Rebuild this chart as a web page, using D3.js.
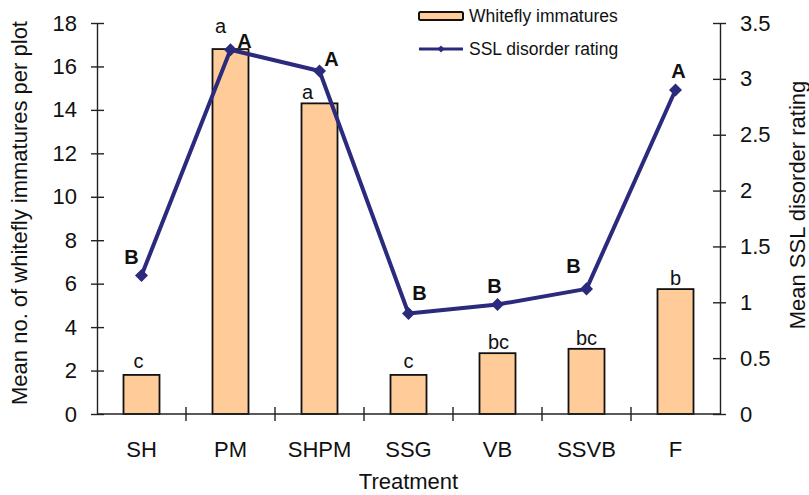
<!DOCTYPE html>
<html>
<head>
<meta charset="utf-8">
<script src="https://cdn.jsdelivr.net/npm/d3@7"></script>
<style>
    body { margin: 0; background: #fff; }
    text { font-family: "Liberation Sans", Arial, sans-serif; fill: #111; }
    .axis path, .axis line { stroke: #222; stroke-width: 1.4; }
</style>
</head>
<body>
<script>
//chart data
var treatments = ["SH", "PM", "SHPM", "SSG", "VB", "SSVB", "F"];
var whiteflyMeans = [1.8, 16.8, 14.3, 1.8, 2.8, 3.0, 5.75];
var whiteflyLetters = ["c", "a", "a", "c", "bc", "bc", "b"];
var sslMeans = [1.24, 3.26, 3.07, 0.9, 0.98, 1.12, 2.9];
var sslLetters = ["B", "A", "A", "B", "B", "B", "A"];
var leftTicks = [0, 2, 4, 6, 8, 10, 12, 14, 16, 18];
var rightTicks = [0, 0.5, 1, 1.5, 2, 2.5, 3, 3.5];

//where the letters sit relative to their bars / points
var barLetterDx = [-3, -10, -12, 0, 1, 0, 0];
var barLetterDy = [-7, -16, -4, -7, -4, -4, -4];
var sslLetterDx = [-10, 14, 12, 11, -3, -13, 3];
var sslLetterDy = [-11, -2, -5, -13, -12, -16, -12];

window.onload = function(){
    var width = 809,
        height = 495;
    var margin = {left: 97, right: 89, top: 23, bottom: 81};

    var svg = d3.select("body")
        .append("svg")
        .attr("width", width)
        .attr("height", height);

    var x = d3.scaleBand()
        .domain(treatments)
        .range([margin.left, width - margin.right]);

    var yLeft = d3.scaleLinear()
        .domain([0, 18])
        .range([height - margin.bottom, margin.top]);

    var yRight = d3.scaleLinear()
        .domain([0, 3.5])
        .range([height - margin.bottom, margin.top]);

    var navy = "#2b2a7c";
    var barW = 36;
    var cx = function(d){ return x(d) + x.bandwidth() / 2; };

    //bars
    svg.selectAll(".bar")
        .data(treatments)
        .enter()
        .append("rect")
        .attr("class", "bar")
        .attr("x", function(d){ return cx(d) - barW / 2; })
        .attr("y", function(d, i){ return yLeft(whiteflyMeans[i]); })
        .attr("width", barW)
        .attr("height", function(d, i){ return yLeft(0) - yLeft(whiteflyMeans[i]); })
        .attr("fill", "#ffcc99")
        .attr("stroke", "#111")
        .attr("stroke-width", 1.8);

    //bar letters
    svg.selectAll(".barLetter")
        .data(treatments)
        .enter()
        .append("text")
        .attr("class", "barLetter")
        .attr("x", function(d, i){ return cx(d) + barLetterDx[i]; })
        .attr("y", function(d, i){ return yLeft(whiteflyMeans[i]) + barLetterDy[i]; })
        .attr("text-anchor", "middle")
        .style("font-size", "20px")
        .text(function(d, i){ return whiteflyLetters[i]; });

    //axes
    var bottom = height - margin.bottom;
    var xAxis = svg.append("g").attr("class", "axis");
    xAxis.append("line")
        .attr("x1", margin.left).attr("x2", width - margin.right)
        .attr("y1", bottom).attr("y2", bottom);
    xAxis.selectAll(".xtick")
        .data(treatments.slice(1))
        .enter()
        .append("line")
        .attr("x1", function(d){ return x(d); })
        .attr("x2", function(d){ return x(d); })
        .attr("y1", bottom - 7)
        .attr("y2", bottom + 7);
    xAxis.selectAll(".xlabel")
        .data(treatments)
        .enter()
        .append("text")
        .attr("x", cx)
        .attr("y", bottom + 43)
        .attr("text-anchor", "middle")
        .style("font-size", "22px")
        .text(function(d){ return d; });

    var leftAxis = svg.append("g")
        .attr("class", "axis")
        .attr("transform", "translate(" + margin.left + ",0)")
        .call(d3.axisLeft(yLeft).tickValues(leftTicks).tickSizeInner(6).tickSizeOuter(0).tickPadding(14));
    leftAxis.selectAll(".tick line").attr("x1", 7);
    leftAxis.selectAll("text").style("font-size", "22px");

    var rightAxis = svg.append("g")
        .attr("class", "axis")
        .attr("transform", "translate(" + (width - margin.right) + ",0)")
        .call(d3.axisRight(yRight).tickValues(rightTicks).tickFormat(d3.format("~g"))
            .tickSizeInner(6).tickSizeOuter(0).tickPadding(14));
    rightAxis.selectAll(".tick line").attr("x1", -7);
    rightAxis.selectAll("text").style("font-size", "22px");

    //line series
    var line = d3.line()
        .x(cx)
        .y(function(d, i){ return yRight(sslMeans[i]); });

    svg.append("path")
        .datum(treatments)
        .attr("d", line)
        .attr("fill", "none")
        .attr("stroke", navy)
        .attr("stroke-width", 4)
        .attr("stroke-linejoin", "round");

    var marker = d3.symbol().type(d3.symbolSquare).size(85);
    svg.selectAll(".pt")
        .data(treatments)
        .enter()
        .append("path")
        .attr("class", "pt")
        .attr("d", marker)
        .attr("transform", function(d, i){
            return "translate(" + cx(d) + "," + yRight(sslMeans[i]) + ") rotate(45)";
        })
        .attr("fill", navy);

    svg.selectAll(".sslLetter")
        .data(treatments)
        .enter()
        .append("text")
        .attr("class", "sslLetter")
        .attr("x", function(d, i){ return cx(d) + sslLetterDx[i]; })
        .attr("y", function(d, i){ return yRight(sslMeans[i]) + sslLetterDy[i]; })
        .attr("text-anchor", "middle")
        .style("font-size", "20px")
        .style("font-weight", "bold")
        .text(function(d, i){ return sslLetters[i]; });

    //axis titles
    svg.append("text")
        .attr("transform", "translate(27,213) rotate(-90)")
        .attr("text-anchor", "middle")
        .style("font-size", "22px")
        .text("Mean no. of whitefly immatures per plot");

    svg.append("text")
        .attr("transform", "translate(805,205) rotate(-90)")
        .attr("text-anchor", "middle")
        .style("font-size", "22px")
        .text("Mean SSL disorder rating");

    svg.append("text")
        .attr("x", (margin.left + width - margin.right) / 2)
        .attr("y", 489)
        .attr("text-anchor", "middle")
        .style("font-size", "22px")
        .text("Treatment");

    //legend
    var legend = svg.append("g");
    legend.append("rect")
        .attr("x", 419).attr("y", 12)
        .attr("width", 44).attr("height", 8)
        .attr("rx", 1.5)
        .attr("fill", "#ffcc99")
        .attr("stroke", "#111")
        .attr("stroke-width", 2);
    legend.append("text")
        .attr("x", 469).attr("y", 22)
        .style("font-size", "17.5px")
        .text("Whitefly immatures");
    legend.append("line")
        .attr("x1", 419).attr("x2", 463)
        .attr("y1", 49).attr("y2", 49)
        .attr("stroke", navy)
        .attr("stroke-width", 3);
    legend.append("path")
        .attr("d", d3.symbol().type(d3.symbolSquare).size(25))
        .attr("transform", "translate(441,49) rotate(45)")
        .attr("fill", navy);
    legend.append("text")
        .attr("x", 469).attr("y", 55)
        .style("font-size", "17.5px")
        .text("SSL disorder rating");
};
</script>
</body>
</html>
